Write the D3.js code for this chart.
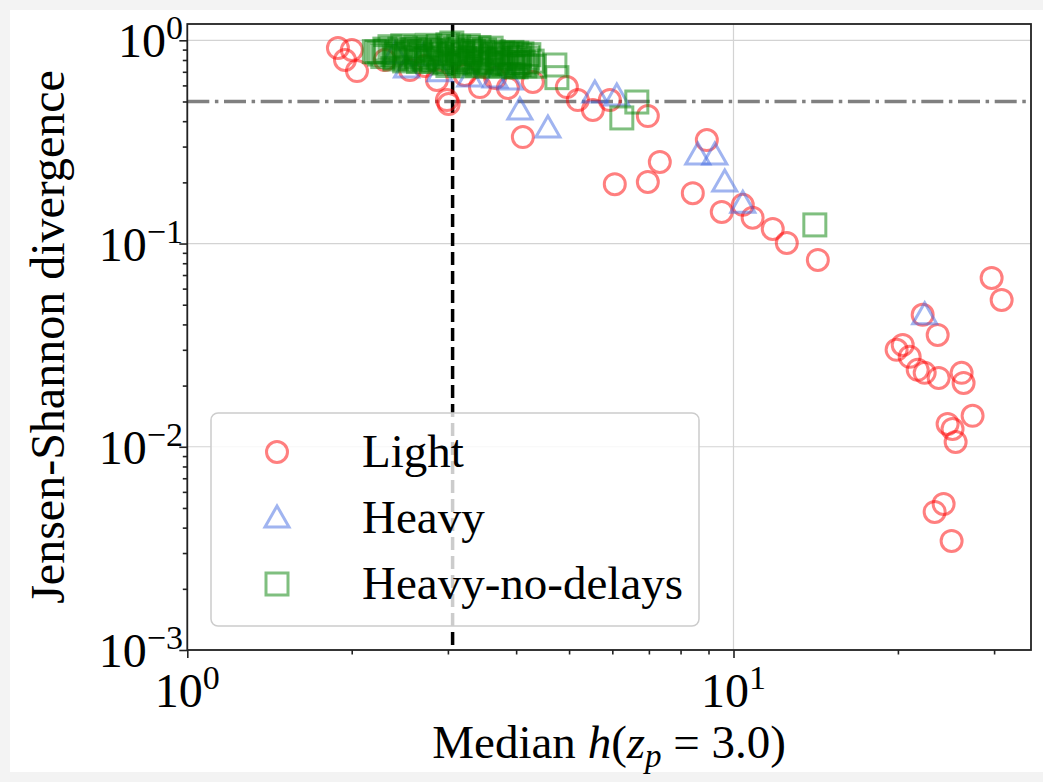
<!DOCTYPE html>
<html>
<head>
<meta charset="utf-8">
<script src="https://cdn.jsdelivr.net/npm/d3@7"></script>
<style>
  body { margin: 0; background: #f3f3f3; }
  svg { display: block; }
  text { font-family: "Liberation Serif", "DejaVu Serif", serif; fill: #000; }
</style>
</head>
<body>
<svg id="chart" width="1043" height="782"></svg>
<script>
// data: [median h, JS divergence]
const light = [
  [1.887, 0.917], [2.001, 0.896], [1.944, 0.800], [2.045, 0.706],
  [2.30, 0.800], [2.556, 0.714], [2.72, 0.748], [2.864, 0.638],
  [2.988, 0.508], [3.01, 0.486], [3.22, 0.675], [3.434, 0.589],
  [3.66, 0.652], [3.863, 0.583], [4.292, 0.624], [4.954, 0.589],
  [5.188, 0.508], [5.527, 0.454], [5.937, 0.508], [6.969, 0.424],
  [4.115, 0.334], [8.937, 0.323], [7.33, 0.252], [6.063, 0.196],
  [6.969, 0.201], [8.424, 0.177], [9.517, 0.143], [10.40, 0.155],
  [10.84, 0.134], [11.80, 0.118], [12.52, 0.1007], [14.27, 0.083],
  [29.69, 0.0677], [30.97, 0.0528], [22.20, 0.0446], [23.65, 0.0355],
  [19.89, 0.0300], [20.41, 0.0317], [21.02, 0.0277], [21.74, 0.0239],
  [22.39, 0.0231], [23.75, 0.0218], [26.16, 0.0231], [26.38, 0.0206],
  [27.40, 0.0142], [24.66, 0.01295], [25.18, 0.01224], [25.51, 0.01056],
  [24.25, 0.00523], [23.35, 0.00478], [25.08, 0.00344]
];

const heavy = [
  [2.40, 0.86], [2.70, 0.84], [2.52, 0.731], [2.90, 0.70], [3.29, 0.66],
  [3.66, 0.652], [3.90, 0.638], [4.063, 0.454], [4.573, 0.370],
  [5.574, 0.551], [6.114, 0.532], [8.602, 0.273], [9.242, 0.273],
  [9.638, 0.201], [10.40, 0.158], [22.39, 0.0446]
];

const heavyNoDelays = [
  [2.30, 0.905], [2.45, 0.905], [2.60, 0.900], [2.76, 0.908], [2.92, 0.902],
  [3.10, 0.906], [3.30, 0.898], [3.50, 0.895], [3.05, 0.970],
  [2.224, 0.876], [2.25, 0.856], [2.38, 0.852], [2.52, 0.858], [2.68, 0.850],
  [2.84, 0.856], [3.01, 0.853], [3.19, 0.857], [3.40, 0.850], [3.62, 0.846],
  [3.85, 0.852], [2.40, 0.809], [2.56, 0.812], [2.72, 0.805], [2.90, 0.810],
  [3.08, 0.806], [3.28, 0.800], [3.49, 0.808], [3.72, 0.800], [3.95, 0.795],
  [2.95, 0.773], [3.15, 0.770], [3.36, 0.775], [3.58, 0.768], [3.80, 0.765],
  [4.05, 0.760], [4.012, 0.866], [4.06, 0.840], [4.12, 0.780], [4.00, 0.740],
  [2.35, 0.930], [2.48, 0.940], [2.62, 0.925], [2.75, 0.945], [2.88, 0.932],
  [3.00, 0.950], [3.14, 0.928], [3.27, 0.940], [3.42, 0.922], [3.60, 0.915],
  [2.20, 0.880], [2.31, 0.884], [2.42, 0.872], [2.55, 0.886], [2.66, 0.878],
  [2.79, 0.890], [2.93, 0.874], [3.06, 0.888], [3.20, 0.876], [3.34, 0.882],
  [3.47, 0.870], [3.63, 0.878], [3.78, 0.866], [3.93, 0.872], [4.10, 0.858],
  [2.28, 0.832], [2.40, 0.826], [2.50, 0.838], [2.63, 0.828], [2.76, 0.834],
  [2.88, 0.824], [3.03, 0.836], [3.17, 0.822], [3.31, 0.830], [3.45, 0.818],
  [3.60, 0.826], [3.75, 0.816], [3.90, 0.822], [4.05, 0.812], [4.20, 0.818],
  [2.50, 0.792], [2.65, 0.786], [2.80, 0.790], [2.97, 0.782], [3.12, 0.788],
  [3.26, 0.780], [3.42, 0.785], [3.56, 0.776], [3.70, 0.782], [3.86, 0.772],
  [4.02, 0.778], [4.18, 0.770], [3.00, 0.752], [3.20, 0.748], [3.40, 0.754],
  [3.55, 0.744], [3.75, 0.750], [3.95, 0.742], [4.15, 0.748],
  [2.58, 0.868], [2.85, 0.862], [3.12, 0.866], [3.38, 0.860], [3.70, 0.856],
  [2.70, 0.815], [3.22, 0.812], [3.52, 0.800], [3.98, 0.830], [4.28, 0.790],
  [4.32, 0.745], [4.22, 0.850],
  [4.71, 0.756], [4.75, 0.655], [6.245, 0.415], [6.653, 0.497], [14.09, 0.1235]
];

const refX = 3.06;   // vertical dashed line
const refY = 0.5;    // horizontal dash-dot line

const xMajor = [1, 10], xMajorExp = ["0", "1"];
const xMinor = [2, 3, 4, 5, 6, 7, 8, 9, 20, 30];
const yMajor = [1, 0.1, 0.01, 0.001], yMajorExp = ["0", "\u22121", "\u22122", "\u22123"];
const yMinor = [0.002, 0.003, 0.004, 0.005, 0.006, 0.007, 0.008, 0.009,
                0.02, 0.03, 0.04, 0.05, 0.06, 0.07, 0.08, 0.09,
                0.2, 0.3, 0.4, 0.5, 0.6, 0.7, 0.8, 0.9];

const seriesNames = ["Light", "Heavy", "Heavy-no-delays"];
const seriesColors = ["#ff0000", "#4169e1", "#008000"];

const pL = 187.3, pR = 1031, pT = 24, pB = 650;

const svg = d3.select("#chart");
svg.append("rect").attr("x", 10).attr("y", 10).attr("width", 1033).attr("height", 762).attr("fill", "#fff");

const x = d3.scaleLog().domain([1, 35.05]).range([pL, pR]);
const y = d3.scaleLog().domain([0.001, 1.203]).range([pB, pT]);

// grid
const grid = svg.append("g").attr("stroke", "#d3d3d3").attr("stroke-width", 1.2);
xMajor.forEach(v => grid.append("line").attr("x1", x(v)).attr("x2", x(v)).attr("y1", pT).attr("y2", pB));
yMajor.forEach(v => grid.append("line").attr("x1", pL).attr("x2", pR).attr("y1", y(v)).attr("y2", y(v)));

// reference lines
svg.append("line")
  .attr("x1", pL).attr("x2", pR).attr("y1", y(refY)).attr("y2", y(refY))
  .attr("stroke", "#808080").attr("stroke-width", 3.5)
  .attr("stroke-dasharray", "22,5.6,3.5,5.6");
svg.append("line")
  .attr("x1", x(refX)).attr("x2", x(refX)).attr("y1", pT).attr("y2", pB)
  .attr("stroke", "#000").attr("stroke-width", 3.5)
  .attr("stroke-dasharray", "13,6");

// markers
const sq = 11, tri = 12;
function drawMarker(g, kind, cx, cy, color) {
  let m;
  if (kind === 0) {
    m = g.append("circle").attr("cx", cx).attr("cy", cy).attr("r", 10.5);
  } else if (kind === 1) {
    m = g.append("path").attr("d", `M${cx},${cy - tri}L${cx + tri},${cy + tri * 0.75}L${cx - tri},${cy + tri * 0.75}Z`);
  } else {
    m = g.append("rect").attr("x", cx - sq).attr("y", cy - sq).attr("width", 2 * sq).attr("height", 2 * sq);
  }
  m.attr("fill", "none").attr("stroke", color).attr("stroke-width", 3).attr("stroke-opacity", 0.5);
}

[light, heavy, heavyNoDelays].forEach((data, i) => {
  const g = svg.append("g");
  data.forEach(d => drawMarker(g, i, x(d[0]), y(d[1]), seriesColors[i]));
});

// frame
svg.append("rect").attr("x", pL).attr("y", pT).attr("width", pR - pL).attr("height", pB - pT)
  .attr("fill", "none").attr("stroke", "#222").attr("stroke-width", 1.8);

// ticks
function axisG(ax, tx, ty) {
  const g = svg.append("g").attr("transform", `translate(${tx},${ty})`).call(ax);
  g.select(".domain").remove();
  g.selectAll(".tick line").attr("stroke", "#222").attr("stroke-width", 1.6);
  return g;
}
axisG(d3.axisBottom(x).tickValues(xMajor).tickSize(8).tickFormat(""), 0, pB);
axisG(d3.axisBottom(x).tickValues(xMinor).tickSize(4.5).tickFormat(""), 0, pB);
axisG(d3.axisLeft(y).tickValues(yMajor).tickSize(8).tickFormat(""), pL, 0);
axisG(d3.axisLeft(y).tickValues(yMinor).tickSize(4.5).tickFormat(""), pL, 0);

// tick labels
xMajor.forEach((v, i) => {
  const t = svg.append("text").attr("x", x(v)).attr("y", 707).attr("text-anchor", "middle").attr("font-size", 48);
  t.append("tspan").text("10");
  t.append("tspan").attr("dy", -18).attr("font-size", 34).text(xMajorExp[i]);
});
yMajor.forEach((v, i) => {
  const t = svg.append("text").attr("x", 183).attr("y", y(v) + 17).attr("text-anchor", "end").attr("font-size", 48);
  t.append("tspan").text("10");
  t.append("tspan").attr("dy", -18).attr("font-size", 34).text(yMajorExp[i]);
});

// axis titles
const xl = svg.append("text").attr("x", (pL + pR) / 2).attr("y", 758).attr("text-anchor", "middle").attr("font-size", 47);
xl.append("tspan").text("Median ");
xl.append("tspan").attr("font-style", "italic").text("h");
xl.append("tspan").text("(");
xl.append("tspan").attr("font-style", "italic").text("z");
xl.append("tspan").attr("font-style", "italic").attr("font-size", 33).attr("dy", 9).text("p");
xl.append("tspan").attr("dy", -9).text(" = 3.0)");

svg.append("text")
  .attr("transform", `translate(64,${(pT + pB) / 2}) rotate(-90)`)
  .attr("text-anchor", "middle").attr("font-size", 48)
  .text("Jensen-Shannon divergence");

// legend
const lg = svg.append("g");
lg.append("rect").attr("x", 211).attr("y", 413).attr("width", 488).attr("height", 213).attr("rx", 7)
  .attr("fill", "#fff").attr("fill-opacity", 0.8).attr("stroke", "#ccc").attr("stroke-width", 1.5);
seriesNames.forEach((name, i) => {
  const cy = 452 + i * 66;
  drawMarker(lg, i, 277, cy, seriesColors[i]);
  lg.append("text").attr("x", 362).attr("y", cy + 15).attr("font-size", 47).text(name);
});
</script>
</body>
</html>
